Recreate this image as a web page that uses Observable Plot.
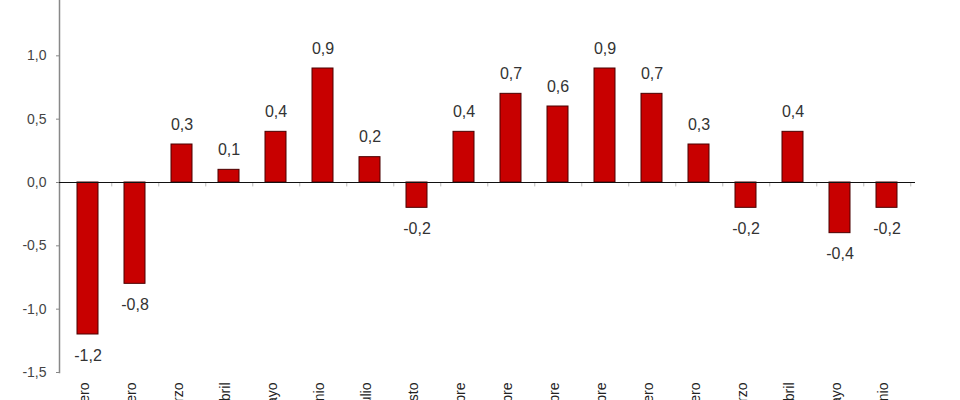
<!DOCTYPE html>
<html>
<head>
<meta charset="utf-8">
<script src="https://cdn.jsdelivr.net/npm/d3@7"></script>
<script src="https://cdn.jsdelivr.net/npm/@observablehq/plot@0.6"></script>
<style>
  html, body { margin: 0; padding: 0; background: #fff; }
  body { width: 960px; height: 400px; overflow: hidden; }
  svg { display: block; }
</style>
</head>
<body>
<div id="chart"></div>
<script>
const months = ["enero","febrero","marzo","abril","mayo","junio","julio","agosto","septiembre","octubre","noviembre","diciembre","enero","febrero","marzo","abril","mayo","junio"];
const values = [-1.2, -0.8, 0.3, 0.1, 0.4, 0.9, 0.2, -0.2, 0.4, 0.7, 0.6, 0.9, 0.7, 0.3, -0.2, 0.4, -0.4, -0.2];
const yTicks = [-1.5, -1.0, -0.5, 0.0, 0.5, 1.0, 1.5];

const data = months.map((m, i) => ({i, month: m, value: values[i]}));
const fmt = v => d3.format(".1f")(v).replace(".", ",").replace("−", "-");

const W = 960, H = 400, mL = 59, mR = 45;
const step = (W - mL - mR) / months.length;

const chart = Plot.plot({
  width: W,
  height: H,
  marginLeft: mL,
  marginRight: mR,
  marginTop: -8,
  marginBottom: 28,
  style: {fontFamily: "'Liberation Sans', Arial, sans-serif", background: "#fff"},
  x: {domain: data.map(d => d.i), paddingInner: 0.56, paddingOuter: 0.28, label: null},
  y: {domain: [-1.5, 1.5], label: null},
  marks: [
    Plot.axisY({ticks: yTicks, tickFormat: fmt, tickSize: 3, tickPadding: 10, fontSize: 14, color: "#444", stroke: "#888"}),
    Plot.frame({anchor: "left", stroke: "#888", strokeWidth: 1.5}),
    Plot.axisX({tickFormat: i => months[i], tickRotate: -90, tickSize: 0, tickPadding: 10, dx: -3, fontSize: 14, color: "#222"}),
    Plot.ruleX(data, {x: "i", dx: step / 2, y1: 0, y2: -0.035, stroke: "#bbb"}),
    Plot.barY(data, {x: "i", y: "value", fill: "#c80000", stroke: "#4a0000", strokeWidth: 1}),
    Plot.ruleY([0], {stroke: "#111", strokeWidth: 1.2}),
    Plot.text(data.filter(d => d.value > 0), {x: "i", y: "value", text: d => fmt(d.value), dy: -20, fontSize: 16, fill: "#333"}),
    Plot.text(data.filter(d => d.value < 0), {x: "i", y: "value", text: d => fmt(d.value), dy: 21, fontSize: 16, fill: "#333"})
  ]
});
document.getElementById("chart").appendChild(chart);
</script>
</body>
</html>
